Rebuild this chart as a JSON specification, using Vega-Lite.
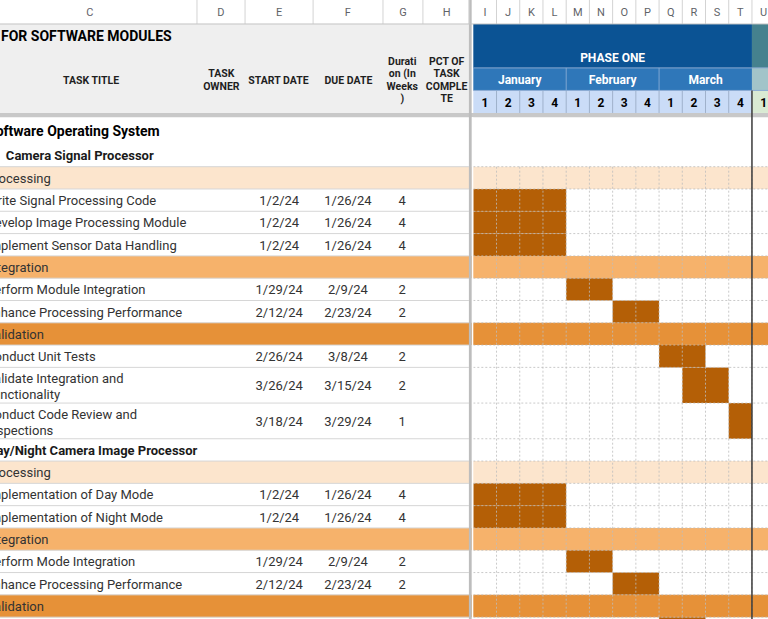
{
  "$schema": "https://vega.github.io/schema/vega-lite/v6.json",
  "width": 768,
  "height": 619,
  "autosize": {"type": "fit", "contains": "padding"},
  "padding": 0,
  "background": "#ffffff",
  "config": {"view": {"stroke": null}, "text": {"font": "Roboto"}},
  "datasets": {
    "rows": [
      {"kind": "top", "title": "Software Operating System", "y0": -2.22, "y1": -1.06, "yc": -1.63},
      {"kind": "group", "title": "Camera Signal Processor", "y0": -1.06, "y1": 0, "yc": -0.53},
      {"kind": "proc", "title": "Processing", "y0": 0, "y1": 1, "yc": 0.5},
      {"kind": "task", "title": "Write Signal Processing Code", "start": "1/2/24", "due": "1/26/24", "dur": "4", "w0": 0, "w1": 4, "y0": 1, "y1": 2, "yc": 1.5},
      {"kind": "task", "title": "Develop Image Processing Module", "start": "1/2/24", "due": "1/26/24", "dur": "4", "w0": 0, "w1": 4, "y0": 2, "y1": 3, "yc": 2.5},
      {"kind": "task", "title": "Implement Sensor Data Handling", "start": "1/2/24", "due": "1/26/24", "dur": "4", "w0": 0, "w1": 4, "y0": 3, "y1": 4, "yc": 3.5},
      {"kind": "integ", "title": "Integration", "y0": 4, "y1": 5, "yc": 4.5},
      {"kind": "task", "title": "Perform Module Integration", "start": "1/29/24", "due": "2/9/24", "dur": "2", "w0": 4, "w1": 6, "y0": 5, "y1": 6, "yc": 5.5},
      {"kind": "task", "title": "Enhance Processing Performance", "start": "2/12/24", "due": "2/23/24", "dur": "2", "w0": 6, "w1": 8, "y0": 6, "y1": 7, "yc": 6.5},
      {"kind": "valid", "title": "Validation", "y0": 7, "y1": 8, "yc": 7.5},
      {"kind": "task", "title": "Conduct Unit Tests", "start": "2/26/24", "due": "3/8/24", "dur": "2", "w0": 8, "w1": 10, "y0": 8, "y1": 9, "yc": 8.5},
      {"kind": "task", "title": "Validate Integration and\nFunctionality", "start": "3/26/24", "due": "3/15/24", "dur": "2", "w0": 9, "w1": 11, "y0": 9, "y1": 10.6, "yc": 9.8},
      {"kind": "task", "title": "Conduct Code Review and\nInspections", "start": "3/18/24", "due": "3/29/24", "dur": "1", "w0": 11, "w1": 12, "y0": 10.6, "y1": 12.2, "yc": 11.4},
      {"kind": "group", "title": "Day/Night Camera Image Processor", "y0": 12.2, "y1": 13.2, "yc": 12.7},
      {"kind": "proc", "title": "Processing", "y0": 13.2, "y1": 14.2, "yc": 13.7},
      {"kind": "task", "title": "Implementation of Day Mode", "start": "1/2/24", "due": "1/26/24", "dur": "4", "w0": 0, "w1": 4, "y0": 14.2, "y1": 15.2, "yc": 14.7},
      {"kind": "task", "title": "Implementation of Night Mode", "start": "1/2/24", "due": "1/26/24", "dur": "4", "w0": 0, "w1": 4, "y0": 15.2, "y1": 16.2, "yc": 15.7},
      {"kind": "integ", "title": "Integration", "y0": 16.2, "y1": 17.2, "yc": 16.7},
      {"kind": "task", "title": "Perform Mode Integration", "start": "1/29/24", "due": "2/9/24", "dur": "2", "w0": 4, "w1": 6, "y0": 17.2, "y1": 18.2, "yc": 17.7},
      {"kind": "task", "title": "Enhance Processing Performance", "start": "2/12/24", "due": "2/23/24", "dur": "2", "w0": 6, "w1": 8, "y0": 18.2, "y1": 19.2, "yc": 18.7},
      {"kind": "valid", "title": "Validation", "y0": 19.2, "y1": 20.2, "yc": 19.7},
      {"kind": "task", "title": "Conduct Unit Tests", "start": "2/26/24", "due": "3/8/24", "dur": "2", "w0": 8, "w1": 10, "y0": 20.2, "y1": 21.2, "yc": 20.7}
    ],
    "fills": [
      {"kind": "header", "x0": -21.2, "x1": -0.19, "y0": -6.4, "y1": -2.41},
      {"kind": "phase1", "x0": 0, "x1": 12, "y0": -6.4, "y1": -4.43},
      {"kind": "phase2", "x0": 12, "x1": 13, "y0": -6.4, "y1": -4.43},
      {"kind": "month1", "x0": 0, "x1": 12, "y0": -4.43, "y1": -3.42},
      {"kind": "month2", "x0": 12, "x1": 13, "y0": -4.43, "y1": -3.42},
      {"kind": "week1", "x0": 0, "x1": 12, "y0": -3.42, "y1": -2.41},
      {"kind": "week2", "x0": 12, "x1": 13, "y0": -3.42, "y1": -2.41},
      {"kind": "shadow", "x0": -21.2, "x1": 13, "y0": -2.41, "y1": -2.22}
    ],
    "overlay": [
      {"kind": "gap", "x0": -0.07, "x1": 0, "y0": -2.22, "y1": 21.2},
      {"kind": "divider", "x0": -0.19, "x1": -0.07, "y0": -7.475, "y1": 21.2}
    ],
    "cols": [
      {"c": "C", "xc": -16.51, "x1": -11.9},
      {"c": "D", "xc": -10.87, "x1": -9.83},
      {"c": "E", "xc": -8.36, "x1": -6.9},
      {"c": "F", "xc": -5.4, "x1": -3.89},
      {"c": "G", "xc": -3.03, "x1": -2.17},
      {"c": "H", "xc": -1.15, "x1": -0.19},
      {"c": "I", "xc": 0.5, "x1": 1},
      {"c": "J", "xc": 1.5, "x1": 2},
      {"c": "K", "xc": 2.5, "x1": 3},
      {"c": "L", "xc": 3.5, "x1": 4},
      {"c": "M", "xc": 4.5, "x1": 5},
      {"c": "N", "xc": 5.5, "x1": 6},
      {"c": "O", "xc": 6.5, "x1": 7},
      {"c": "P", "xc": 7.5, "x1": 8},
      {"c": "Q", "xc": 8.5, "x1": 9},
      {"c": "R", "xc": 9.5, "x1": 10},
      {"c": "S", "xc": 10.5, "x1": 11},
      {"c": "T", "xc": 11.5, "x1": 12},
      {"c": "U", "xc": 12.5, "x1": 13}
    ],
    "weeks": [
      {"n": "1", "xc": 0.5, "b": 1},
      {"n": "2", "xc": 1.5, "b": 2},
      {"n": "3", "xc": 2.5, "b": 3},
      {"n": "4", "xc": 3.5, "b": 4},
      {"n": "1", "xc": 4.5, "b": 5},
      {"n": "2", "xc": 5.5, "b": 6},
      {"n": "3", "xc": 6.5, "b": 7},
      {"n": "4", "xc": 7.5, "b": 8},
      {"n": "1", "xc": 8.5, "b": 9},
      {"n": "2", "xc": 9.5, "b": 10},
      {"n": "3", "xc": 10.5, "b": 11},
      {"n": "4", "xc": 11.5, "b": 12},
      {"n": "1", "xc": 12.5, "b": 13}
    ],
    "bands": [
      {"label": "PHASE ONE", "xc": 6, "yc": -4.92},
      {"label": "January", "xc": 2, "yc": -3.93},
      {"label": "February", "xc": 6, "yc": -3.93},
      {"label": "March", "xc": 10, "yc": -3.93}
    ],
    "heads": [
      {"label": "TASK TITLE", "xc": -16.46},
      {"label": "TASK\nOWNER", "xc": -10.85},
      {"label": "START DATE", "xc": -8.39},
      {"label": "DUE DATE", "xc": -5.38},
      {"label": "Durati\non (In\nWeeks\n)", "xc": -3.06},
      {"label": "PCT OF\nTASK\nCOMPLE\nTE", "xc": -1.15}
    ],
    "titles": [{"label": "FOR SOFTWARE MODULES"}]
  },
  "layer": [
    {
      "data": {"name": "fills"},
      "mark": {"type": "rect", "clip": true},
      "encoding": {
        "x": {"field": "x0", "type": "quantitative", "scale": {"domain": [-20.383, 12.691], "nice": false, "zero": false}, "axis": null},
        "x2": {"field": "x1"},
        "y": {"field": "y0", "type": "quantitative", "scale": {"domain": [-7.475, 20.283], "reverse": true, "nice": false, "zero": false}, "axis": null},
        "y2": {"field": "y1"},
        "color": {"field": "kind", "type": "nominal", "legend": null,
          "scale": {"domain": ["header", "phase1", "phase2", "month1", "month2", "week1", "week2", "shadow", "proc", "integ", "valid", "divider", "gap"],
                    "range": ["#efefef", "#0b5394", "#45818e", "#2f77b9", "#a2c4c9", "#cadcf7", "#d9ead3", "#c8c8c8", "#fce5cd", "#f6b26b", "#e69138", "#bdbdbd", "#ffffff"]}}
      }
    },
    {
      "data": {"name": "rows"},
      "transform": [{"filter": "indexof(['proc','integ','valid'], datum.kind) >= 0"}],
      "mark": {"type": "rect", "clip": true},
      "encoding": {
        "x": {"datum": -21.2, "type": "quantitative", "scale": {"domain": [-20.383, 12.691], "nice": false, "zero": false}, "axis": null},
        "x2": {"datum": 13},
        "y": {"field": "y0", "type": "quantitative", "scale": {"domain": [-7.475, 20.283], "reverse": true, "nice": false, "zero": false}, "axis": null},
        "y2": {"field": "y1"},
        "color": {"field": "kind", "type": "nominal", "legend": null}
      }
    },
    {
      "data": {"name": "rows"},
      "transform": [{"filter": "isValid(datum.w0)"}],
      "mark": {"type": "rect", "clip": true, "color": "#b45f06"},
      "encoding": {
        "x": {"field": "w0", "type": "quantitative", "scale": {"domain": [-20.383, 12.691], "nice": false, "zero": false}, "axis": null},
        "x2": {"field": "w1"},
        "y": {"field": "y0", "type": "quantitative", "scale": {"domain": [-7.475, 20.283], "reverse": true, "nice": false, "zero": false}, "axis": null},
        "y2": {"field": "y1"}
      }
    },
    {
      "data": {"name": "rows"},
      "transform": [{"filter": "datum.kind != 'top'"}],
      "mark": {"type": "rule", "clip": true, "color": "#d6d6d6", "strokeWidth": 1},
      "encoding": {
        "x": {"datum": -21.2, "type": "quantitative", "scale": {"domain": [-20.383, 12.691], "nice": false, "zero": false}, "axis": null},
        "x2": {"datum": -0.19},
        "y": {"field": "y1", "type": "quantitative", "scale": {"domain": [-7.475, 20.283], "reverse": true, "nice": false, "zero": false}, "axis": null}
      }
    },
    {
      "data": {"name": "rows"},
      "transform": [{"filter": "datum.kind != 'top'"}],
      "mark": {"type": "rule", "clip": true, "color": "#bdbdbd", "strokeWidth": 1, "strokeDash": [2, 2], "opacity": 0.8},
      "encoding": {
        "x": {"datum": 0, "type": "quantitative", "scale": {"domain": [-20.383, 12.691], "nice": false, "zero": false}, "axis": null},
        "x2": {"datum": 13},
        "y": {"field": "y1", "type": "quantitative", "scale": {"domain": [-7.475, 20.283], "reverse": true, "nice": false, "zero": false}, "axis": null}
      }
    },
    {
      "data": {"name": "weeks"},
      "mark": {"type": "rule", "clip": true, "color": "#bdbdbd", "strokeWidth": 1, "strokeDash": [2, 2], "opacity": 0.8},
      "encoding": {
        "x": {"field": "b", "type": "quantitative", "scale": {"domain": [-20.383, 12.691], "nice": false, "zero": false}, "axis": null},
        "y": {"datum": 0, "type": "quantitative", "scale": {"domain": [-7.475, 20.283], "reverse": true, "nice": false, "zero": false}, "axis": null},
        "y2": {"datum": 21.2}
      }
    },
    {
      "data": {"name": "overlay"},
      "mark": {"type": "rect", "clip": true},
      "encoding": {
        "x": {"field": "x0", "type": "quantitative", "scale": {"domain": [-20.383, 12.691], "nice": false, "zero": false}, "axis": null},
        "x2": {"field": "x1"},
        "y": {"field": "y0", "type": "quantitative", "scale": {"domain": [-7.475, 20.283], "reverse": true, "nice": false, "zero": false}, "axis": null},
        "y2": {"field": "y1"},
        "color": {"field": "kind", "type": "nominal", "legend": null}
      }
    },
    {
      "data": {"name": "weeks"},
      "transform": [{"filter": "datum.b < 12"}],
      "mark": {"type": "rule", "clip": true, "color": "#9fb1cb", "strokeWidth": 1},
      "encoding": {
        "x": {"field": "b", "type": "quantitative", "scale": {"domain": [-20.383, 12.691], "nice": false, "zero": false}, "axis": null},
        "y": {"datum": -3.42, "type": "quantitative", "scale": {"domain": [-7.475, 20.283], "reverse": true, "nice": false, "zero": false}, "axis": null},
        "y2": {"datum": -2.41}
      }
    },
    {
      "data": {"values": [{"b": 4}, {"b": 8}]},
      "mark": {"type": "rule", "clip": true, "color": "#7fa5d3", "strokeWidth": 1},
      "encoding": {
        "x": {"field": "b", "type": "quantitative", "scale": {"domain": [-20.383, 12.691], "nice": false, "zero": false}, "axis": null},
        "y": {"datum": -4.43, "type": "quantitative", "scale": {"domain": [-7.475, 20.283], "reverse": true, "nice": false, "zero": false}, "axis": null},
        "y2": {"datum": -3.42}
      }
    },
    {
      "data": {"values": [{"h": -4.43}, {"h": -3.42}]},
      "mark": {"type": "rule", "clip": true, "color": "#8aaad2", "strokeWidth": 1},
      "encoding": {
        "x": {"datum": 0, "type": "quantitative", "scale": {"domain": [-20.383, 12.691], "nice": false, "zero": false}, "axis": null},
        "x2": {"datum": 13},
        "y": {"field": "h", "type": "quantitative", "scale": {"domain": [-7.475, 20.283], "reverse": true, "nice": false, "zero": false}, "axis": null}
      }
    },
    {
      "data": {"name": "cols"},
      "mark": {"type": "rule", "clip": true, "color": "#d3d3d3", "strokeWidth": 1},
      "encoding": {
        "x": {"field": "x1", "type": "quantitative", "scale": {"domain": [-20.383, 12.691], "nice": false, "zero": false}, "axis": null},
        "y": {"datum": -7.475, "type": "quantitative", "scale": {"domain": [-7.475, 20.283], "reverse": true, "nice": false, "zero": false}, "axis": null},
        "y2": {"datum": -6.4}
      }
    },
    {
      "data": {"values": [{"h": -6.4}]},
      "mark": {"type": "rule", "clip": true, "color": "#c4c4c4", "strokeWidth": 1},
      "encoding": {
        "x": {"datum": -21.2, "type": "quantitative", "scale": {"domain": [-20.383, 12.691], "nice": false, "zero": false}, "axis": null},
        "x2": {"datum": 13},
        "y": {"field": "h", "type": "quantitative", "scale": {"domain": [-7.475, 20.283], "reverse": true, "nice": false, "zero": false}, "axis": null}
      }
    },
    {
      "data": {"values": [{"b": 12}]},
      "mark": {"type": "rule", "clip": true, "color": "#3a3a3a", "strokeWidth": 1.5},
      "encoding": {
        "x": {"field": "b", "type": "quantitative", "scale": {"domain": [-20.383, 12.691], "nice": false, "zero": false}, "axis": null},
        "y": {"datum": -3.42, "type": "quantitative", "scale": {"domain": [-7.475, 20.283], "reverse": true, "nice": false, "zero": false}, "axis": null},
        "y2": {"datum": 21.2}
      }
    },
    {
      "data": {"name": "cols"},
      "mark": {"type": "text", "clip": true, "fontSize": 11, "color": "#5f6368", "align": "center", "baseline": "middle", "dy": 1},
      "encoding": {
        "x": {"field": "xc", "type": "quantitative", "scale": {"domain": [-20.383, 12.691], "nice": false, "zero": false}, "axis": null},
        "y": {"datum": -6.94, "type": "quantitative", "scale": {"domain": [-7.475, 20.283], "reverse": true, "nice": false, "zero": false}, "axis": null},
        "text": {"field": "c"}
      }
    },
    {
      "data": {"name": "titles"},
      "mark": {"type": "text", "clip": true, "fontSize": 14, "fontWeight": "bold", "color": "#000000", "align": "left", "baseline": "middle", "dy": 2},
      "encoding": {
        "x": {"datum": -20.34, "type": "quantitative", "scale": {"domain": [-20.383, 12.691], "nice": false, "zero": false}, "axis": null},
        "y": {"datum": -5.91, "type": "quantitative", "scale": {"domain": [-7.475, 20.283], "reverse": true, "nice": false, "zero": false}, "axis": null},
        "text": {"field": "label"}
      }
    },
    {
      "data": {"name": "heads"},
      "transform": [{"filter": "length(split(datum.label, '\\n')) == 1"}],
      "mark": {"type": "text", "clip": true, "fontSize": 10.5, "fontWeight": "bold", "color": "#1f1f1f", "align": "center", "baseline": "middle", "dy": 1},
      "encoding": {
        "x": {"field": "xc", "type": "quantitative", "scale": {"domain": [-20.383, 12.691], "nice": false, "zero": false}, "axis": null},
        "y": {"datum": -3.89, "type": "quantitative", "scale": {"domain": [-7.475, 20.283], "reverse": true, "nice": false, "zero": false}, "axis": null},
        "text": {"field": "label"}
      }
    },
    {
      "data": {"name": "heads"},
      "transform": [{"filter": "length(split(datum.label, '\\n')) == 2"}],
      "mark": {"type": "text", "clip": true, "fontSize": 10.5, "fontWeight": "bold", "color": "#1f1f1f", "align": "center", "baseline": "middle", "lineBreak": "\n", "lineHeight": 12.8, "dy": -6},
      "encoding": {
        "x": {"field": "xc", "type": "quantitative", "scale": {"domain": [-20.383, 12.691], "nice": false, "zero": false}, "axis": null},
        "y": {"datum": -3.89, "type": "quantitative", "scale": {"domain": [-7.475, 20.283], "reverse": true, "nice": false, "zero": false}, "axis": null},
        "text": {"field": "label"}
      }
    },
    {
      "data": {"name": "heads"},
      "transform": [{"filter": "length(split(datum.label, '\\n')) == 4"}],
      "mark": {"type": "text", "clip": true, "fontSize": 10.5, "fontWeight": "bold", "color": "#1f1f1f", "align": "center", "baseline": "middle", "lineBreak": "\n", "lineHeight": 12.5, "dy": -18},
      "encoding": {
        "x": {"field": "xc", "type": "quantitative", "scale": {"domain": [-20.383, 12.691], "nice": false, "zero": false}, "axis": null},
        "y": {"datum": -3.89, "type": "quantitative", "scale": {"domain": [-7.475, 20.283], "reverse": true, "nice": false, "zero": false}, "axis": null},
        "text": {"field": "label"}
      }
    },
    {
      "data": {"name": "bands"},
      "mark": {"type": "text", "clip": true, "fontSize": 12, "fontWeight": "bold", "color": "#ffffff", "align": "center", "baseline": "middle", "dy": 1},
      "encoding": {
        "x": {"field": "xc", "type": "quantitative", "scale": {"domain": [-20.383, 12.691], "nice": false, "zero": false}, "axis": null},
        "y": {"field": "yc", "type": "quantitative", "scale": {"domain": [-7.475, 20.283], "reverse": true, "nice": false, "zero": false}, "axis": null},
        "text": {"field": "label"}
      }
    },
    {
      "data": {"name": "weeks"},
      "mark": {"type": "text", "clip": true, "fontSize": 12, "fontWeight": "bold", "color": "#000000", "align": "center", "baseline": "middle", "dy": 1},
      "encoding": {
        "x": {"field": "xc", "type": "quantitative", "scale": {"domain": [-20.383, 12.691], "nice": false, "zero": false}, "axis": null},
        "y": {"datum": -2.915, "type": "quantitative", "scale": {"domain": [-7.475, 20.283], "reverse": true, "nice": false, "zero": false}, "axis": null},
        "text": {"field": "n"}
      }
    },
    {
      "data": {"name": "rows"},
      "transform": [{"filter": "indexof(['proc','integ','valid','task'], datum.kind) >= 0 && indexof(datum.title, '\\n') < 0"}],
      "mark": {"type": "text", "clip": true, "fontSize": 13, "color": "#333333", "align": "left", "baseline": "middle", "dy": 1},
      "encoding": {
        "x": {"datum": -20.98, "type": "quantitative", "scale": {"domain": [-20.383, 12.691], "nice": false, "zero": false}, "axis": null},
        "y": {"field": "yc", "type": "quantitative", "scale": {"domain": [-7.475, 20.283], "reverse": true, "nice": false, "zero": false}, "axis": null},
        "text": {"field": "title"}
      }
    },
    {
      "data": {"name": "rows"},
      "transform": [{"filter": "indexof(datum.title, '\\n') >= 0"}],
      "mark": {"type": "text", "clip": true, "fontSize": 13, "color": "#333333", "align": "left", "baseline": "middle", "lineBreak": "\n", "lineHeight": 16, "dy": -6},
      "encoding": {
        "x": {"datum": -20.98, "type": "quantitative", "scale": {"domain": [-20.383, 12.691], "nice": false, "zero": false}, "axis": null},
        "y": {"field": "yc", "type": "quantitative", "scale": {"domain": [-7.475, 20.283], "reverse": true, "nice": false, "zero": false}, "axis": null},
        "text": {"field": "title"}
      }
    },
    {
      "data": {"name": "rows"},
      "transform": [{"filter": "datum.kind == 'top'"}],
      "mark": {"type": "text", "clip": true, "fontSize": 14, "fontWeight": "bold", "color": "#000000", "align": "left", "baseline": "middle", "dy": 1.5},
      "encoding": {
        "x": {"datum": -20.94, "type": "quantitative", "scale": {"domain": [-20.383, 12.691], "nice": false, "zero": false}, "axis": null},
        "y": {"field": "yc", "type": "quantitative", "scale": {"domain": [-7.475, 20.283], "reverse": true, "nice": false, "zero": false}, "axis": null},
        "text": {"field": "title"}
      }
    },
    {
      "data": {"name": "rows"},
      "transform": [{"filter": "datum.kind == 'group' && datum.title != 'Camera Signal Processor'"}],
      "mark": {"type": "text", "clip": true, "fontSize": 13, "fontWeight": "bold", "color": "#1a1a1a", "align": "left", "baseline": "middle", "dy": 1},
      "encoding": {
        "x": {"datum": -20.9, "type": "quantitative", "scale": {"domain": [-20.383, 12.691], "nice": false, "zero": false}, "axis": null},
        "y": {"field": "yc", "type": "quantitative", "scale": {"domain": [-7.475, 20.283], "reverse": true, "nice": false, "zero": false}, "axis": null},
        "text": {"field": "title"}
      }
    },
    {
      "data": {"name": "rows"},
      "transform": [{"filter": "datum.title == 'Camera Signal Processor'"}],
      "mark": {"type": "text", "clip": true, "fontSize": 13, "fontWeight": "bold", "color": "#1a1a1a", "align": "left", "baseline": "middle", "dy": 1.5},
      "encoding": {
        "x": {"datum": -20.13, "type": "quantitative", "scale": {"domain": [-20.383, 12.691], "nice": false, "zero": false}, "axis": null},
        "y": {"field": "yc", "type": "quantitative", "scale": {"domain": [-7.475, 20.283], "reverse": true, "nice": false, "zero": false}, "axis": null},
        "text": {"field": "title"}
      }
    },
    {
      "data": {"name": "rows"},
      "transform": [{"filter": "isValid(datum.start)"}],
      "mark": {"type": "text", "clip": true, "fontSize": 13, "color": "#333333", "align": "center", "baseline": "middle", "dy": 1},
      "encoding": {
        "x": {"datum": -8.36, "type": "quantitative", "scale": {"domain": [-20.383, 12.691], "nice": false, "zero": false}, "axis": null},
        "y": {"field": "yc", "type": "quantitative", "scale": {"domain": [-7.475, 20.283], "reverse": true, "nice": false, "zero": false}, "axis": null},
        "text": {"field": "start"}
      }
    },
    {
      "data": {"name": "rows"},
      "transform": [{"filter": "isValid(datum.due)"}],
      "mark": {"type": "text", "clip": true, "fontSize": 13, "color": "#333333", "align": "center", "baseline": "middle", "dy": 1},
      "encoding": {
        "x": {"datum": -5.4, "type": "quantitative", "scale": {"domain": [-20.383, 12.691], "nice": false, "zero": false}, "axis": null},
        "y": {"field": "yc", "type": "quantitative", "scale": {"domain": [-7.475, 20.283], "reverse": true, "nice": false, "zero": false}, "axis": null},
        "text": {"field": "due"}
      }
    },
    {
      "data": {"name": "rows"},
      "transform": [{"filter": "isValid(datum.dur)"}],
      "mark": {"type": "text", "clip": true, "fontSize": 13, "color": "#333333", "align": "center", "baseline": "middle", "dy": 1},
      "encoding": {
        "x": {"datum": -3.06, "type": "quantitative", "scale": {"domain": [-20.383, 12.691], "nice": false, "zero": false}, "axis": null},
        "y": {"field": "yc", "type": "quantitative", "scale": {"domain": [-7.475, 20.283], "reverse": true, "nice": false, "zero": false}, "axis": null},
        "text": {"field": "dur"}
      }
    }
  ]
}
